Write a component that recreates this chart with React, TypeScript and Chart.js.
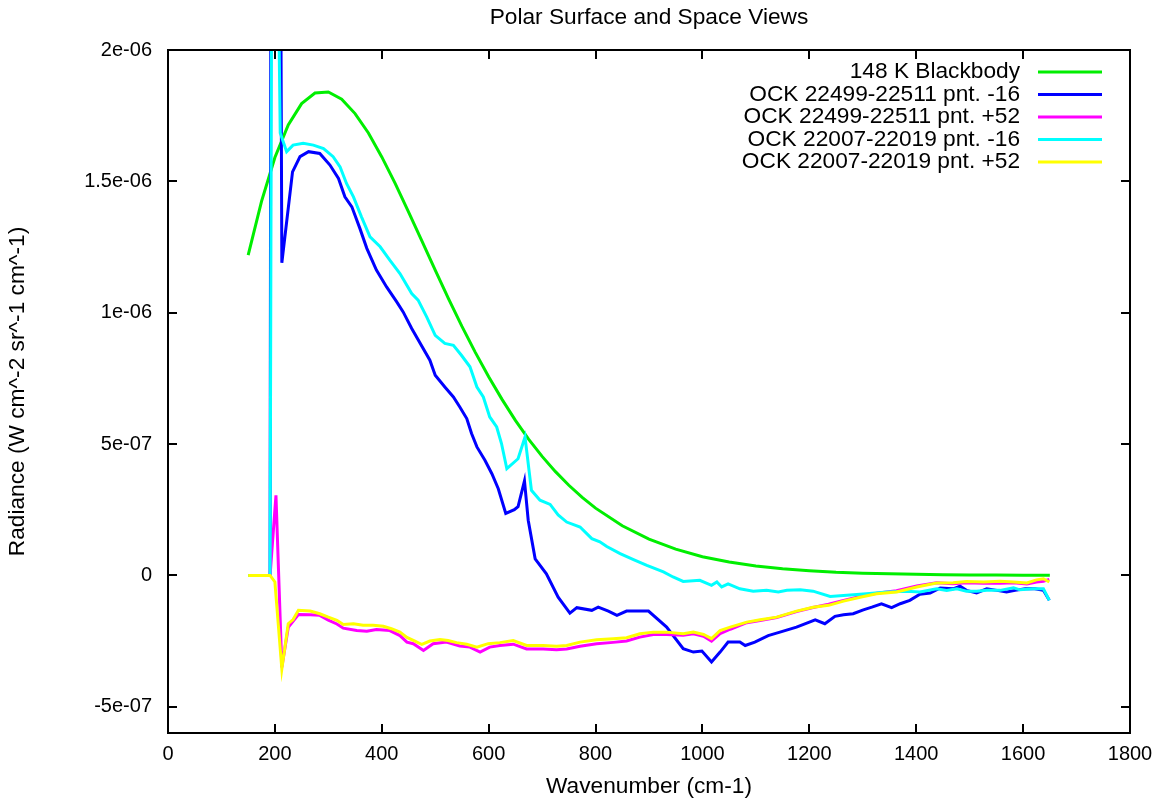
import React, { useEffect, useRef } from "react";
import { Chart, registerables } from "chart.js";

Chart.register(...registerables);

// y values are in units of 1e-6 W cm^-2 sr^-1 cm^-1
const TITLE = "Polar Surface and Space Views";
const X_TITLE = "Wavenumber (cm-1)";
const Y_TITLE = "Radiance (W cm^-2 sr^-1 cm^-1)";

const X_TICKS = [0, 200, 400, 600, 800, 1000, 1200, 1400, 1600, 1800];
const Y_TICKS = [-0.5, 0, 0.5, 1, 1.5, 2];
const Y_TICK_LABELS = ["-5e-07", "0", "5e-07", "1e-06", "1.5e-06", "2e-06"];

const SERIES_NAMES = [
  "148 K Blackbody",
  "OCK 22499-22511 pnt. -16",
  "OCK 22499-22511 pnt. +52",
  "OCK 22007-22019 pnt. -16",
  "OCK 22007-22019 pnt. +52",
];
const SERIES_COLORS = ["#00ee00", "#0000ff", "#ff00ff", "#00ffff", "#ffff00"];

const bbX = [150, 175, 200, 225, 250, 275, 300, 325, 350, 375, 400, 425, 450, 475, 500, 525, 550, 575, 600, 625, 650, 675, 700, 725, 750, 775, 800, 850, 900, 950, 1000, 1050, 1100, 1150, 1200, 1250, 1300, 1350, 1400, 1450, 1500, 1550, 1600, 1650];
const bbY = [1.219, 1.424, 1.591, 1.715, 1.796, 1.836, 1.840, 1.813, 1.758, 1.684, 1.593, 1.492, 1.384, 1.273, 1.162, 1.053, 0.948, 0.849, 0.756, 0.670, 0.590, 0.518, 0.453, 0.395, 0.343, 0.297, 0.256, 0.189, 0.138, 0.100, 0.071, 0.051, 0.036, 0.025, 0.018, 0.012, 0.0085, 0.0059, 0.0040, 0.0027, 0.0019, 0.0013, 0.0009, 0.0006];

const blueX = [150, 191, 197, 213, 233, 247, 263, 284, 303, 319, 331, 344, 359, 372, 390, 409, 428, 440, 456, 490, 500, 518, 534, 546, 559, 568, 578, 593, 606, 618, 632, 648, 655, 667, 674, 687, 708, 730, 752, 765, 793, 805, 824, 840, 858, 899, 933, 964, 983, 999, 1017, 1033, 1048, 1070, 1080, 1098, 1123, 1145, 1176, 1211, 1229, 1248, 1264, 1282, 1301, 1317, 1335, 1354, 1370, 1388, 1407, 1426, 1445, 1469, 1482, 1494, 1513, 1532, 1551, 1569, 1585, 1604, 1622, 1638, 1649];
const blueY = [0, 0, 10, 1.19, 1.536, 1.594, 1.613, 1.606, 1.562, 1.511, 1.441, 1.403, 1.321, 1.245, 1.162, 1.098, 1.041, 1.003, 0.940, 0.819, 0.762, 0.717, 0.679, 0.641, 0.597, 0.540, 0.489, 0.438, 0.387, 0.330, 0.236, 0.250, 0.262, 0.360, 0.210, 0.063, 0.006, -0.083, -0.144, -0.123, -0.133, -0.121, -0.136, -0.152, -0.136, -0.136, -0.197, -0.279, -0.292, -0.288, -0.330, -0.292, -0.254, -0.254, -0.267, -0.254, -0.229, -0.216, -0.197, -0.169, -0.184, -0.156, -0.150, -0.146, -0.131, -0.121, -0.108, -0.123, -0.108, -0.095, -0.072, -0.067, -0.048, -0.051, -0.041, -0.057, -0.067, -0.051, -0.057, -0.063, -0.057, -0.051, -0.051, -0.057, -0.095];

const magentaX = [150, 191, 202, 213, 225, 244, 266, 284, 300, 316, 328, 353, 372, 390, 415, 434, 447, 459, 478, 496, 521, 546, 565, 584, 602, 621, 646, 671, 702, 727, 746, 771, 802, 833, 858, 883, 908, 933, 964, 983, 1002, 1017, 1033, 1052, 1083, 1108, 1139, 1176, 1207, 1236, 1264, 1295, 1326, 1363, 1401, 1438, 1469, 1494, 1526, 1557, 1582, 1607, 1625, 1638, 1649];
const magentaY = [0, 0, 0.305, -0.35, -0.198, -0.149, -0.150, -0.152, -0.170, -0.185, -0.201, -0.210, -0.213, -0.206, -0.210, -0.229, -0.254, -0.260, -0.286, -0.260, -0.254, -0.269, -0.273, -0.292, -0.273, -0.267, -0.262, -0.280, -0.280, -0.283, -0.280, -0.270, -0.260, -0.255, -0.250, -0.235, -0.225, -0.225, -0.228, -0.222, -0.232, -0.250, -0.222, -0.205, -0.180, -0.172, -0.160, -0.138, -0.122, -0.110, -0.095, -0.080, -0.068, -0.058, -0.040, -0.028, -0.032, -0.028, -0.030, -0.030, -0.028, -0.033, -0.025, -0.022, -0.015];

const cyanX = [150, 191, 196, 210, 222, 234, 253, 272, 291, 309, 322, 334, 347, 362, 378, 397, 415, 434, 456, 468, 484, 500, 518, 534, 549, 565, 578, 590, 602, 615, 624, 634, 655, 668, 680, 696, 715, 730, 746, 771, 793, 808, 821, 846, 871, 896, 927, 945, 964, 995, 1017, 1027, 1036, 1048, 1070, 1095, 1120, 1142, 1158, 1183, 1207, 1239, 1270, 1307, 1345, 1382, 1407, 1438, 1457, 1476, 1494, 1513, 1532, 1557, 1582, 1594, 1619, 1638, 1649];
const cyanY = [0, 0, 4, 1.684, 1.613, 1.638, 1.645, 1.638, 1.625, 1.594, 1.555, 1.492, 1.441, 1.365, 1.289, 1.251, 1.200, 1.149, 1.073, 1.048, 0.984, 0.914, 0.883, 0.876, 0.838, 0.794, 0.717, 0.679, 0.603, 0.565, 0.502, 0.406, 0.444, 0.527, 0.324, 0.286, 0.270, 0.230, 0.203, 0.184, 0.140, 0.128, 0.110, 0.083, 0.060, 0.038, 0.013, -0.006, -0.023, -0.019, -0.038, -0.025, -0.044, -0.032, -0.051, -0.060, -0.057, -0.063, -0.057, -0.055, -0.060, -0.080, -0.076, -0.070, -0.063, -0.060, -0.063, -0.051, -0.057, -0.051, -0.060, -0.060, -0.057, -0.057, -0.047, -0.055, -0.051, -0.051, -0.095];

const yellowX = [150, 191, 200, 213, 225, 234, 244, 266, 284, 300, 316, 328, 347, 365, 384, 403, 418, 434, 447, 462, 475, 490, 509, 524, 540, 559, 578, 599, 621, 646, 671, 702, 727, 746, 771, 802, 833, 858, 883, 908, 933, 964, 983, 1002, 1017, 1033, 1052, 1083, 1108, 1139, 1176, 1207, 1236, 1264, 1295, 1326, 1363, 1401, 1438, 1469, 1494, 1526, 1557, 1582, 1607, 1625, 1638, 1649];
const yellowY = [0, 0, -0.025, -0.356, -0.184, -0.168, -0.133, -0.136, -0.146, -0.159, -0.171, -0.187, -0.184, -0.190, -0.190, -0.194, -0.203, -0.216, -0.236, -0.250, -0.263, -0.250, -0.244, -0.248, -0.256, -0.262, -0.273, -0.260, -0.256, -0.248, -0.267, -0.267, -0.270, -0.267, -0.254, -0.245, -0.241, -0.237, -0.222, -0.216, -0.216, -0.222, -0.216, -0.225, -0.241, -0.210, -0.197, -0.178, -0.169, -0.159, -0.136, -0.121, -0.114, -0.098, -0.083, -0.070, -0.063, -0.044, -0.029, -0.028, -0.023, -0.025, -0.022, -0.025, -0.029, -0.017, -0.013, -0.025];

const SERIES_X = [bbX, blueX, magentaX, cyanX, yellowX];
const SERIES_Y = [bbY, blueY, magentaY, cyanY, yellowY];

const FONT = "'Liberation Sans', Arial, sans-serif";
const FS = 20;
const FS_TEXT = 22.7;

const framePlugin = {
  id: "frame",
  afterDraw(chart: any) {
    const { ctx, chartArea: a, scales } = chart;
    const xs = scales.x;
    const ys = scales.y;
    ctx.save();
    ctx.strokeStyle = "#000";
    ctx.lineWidth = 2;
    ctx.strokeRect(a.left, a.top, a.right - a.left, a.bottom - a.top);
    const TL = 9;
    ctx.beginPath();
    for (const v of X_TICKS) {
      const px = Math.round(xs.getPixelForValue(v));
      ctx.moveTo(px, a.bottom);
      ctx.lineTo(px, a.bottom - TL);
      ctx.moveTo(px, a.top);
      ctx.lineTo(px, a.top + TL);
    }
    for (const v of Y_TICKS) {
      const py = Math.round(ys.getPixelForValue(v));
      ctx.moveTo(a.left, py);
      ctx.lineTo(a.left + TL, py);
      ctx.moveTo(a.right, py);
      ctx.lineTo(a.right - TL, py);
    }
    ctx.stroke();

    ctx.fillStyle = "#000";
    ctx.font = `${FS_TEXT}px ${FONT}`;
    ctx.textAlign = "center";
    ctx.textBaseline = "middle";
    const cx = (a.left + a.right) / 2;
    ctx.fillText(TITLE, cx, 18);
    ctx.fillText(X_TITLE, cx, 787);
    ctx.save();
    ctx.translate(18, (a.top + a.bottom) / 2);
    ctx.rotate(-Math.PI / 2);
    ctx.fillText(Y_TITLE, 0, 0);
    ctx.restore();

    // legend
    const rowsY = [72, 94.5, 117, 139.5, 162];
    ctx.textAlign = "right";
    for (let i = 0; i < SERIES_NAMES.length; i++) {
      ctx.fillStyle = "#000";
      ctx.fillText(SERIES_NAMES[i], 1020, rowsY[i]);
      ctx.strokeStyle = SERIES_COLORS[i];
      ctx.lineWidth = 3;
      ctx.beginPath();
      ctx.moveTo(1038, rowsY[i]);
      ctx.lineTo(1102, rowsY[i]);
      ctx.stroke();
    }
    ctx.restore();
  },
};

export default function App() {
  const ref = useRef<HTMLCanvasElement | null>(null);
  useEffect(() => {
    if (!ref.current) return;
    const datasets = SERIES_NAMES.map((name, i) => ({
      label: name,
      data: SERIES_X[i].map((x, j) => ({ x, y: SERIES_Y[i][j] })),
      borderColor: SERIES_COLORS[i],
      backgroundColor: SERIES_COLORS[i],
      borderWidth: 3,
      pointRadius: 0,
      tension: 0,
      fill: false,
      order: -i,
      clip: 0,
    }));
    const chart = new Chart(ref.current, {
      type: "line",
      data: { datasets },
      plugins: [framePlugin],
      options: {
        animation: false,
        responsive: false,
        maintainAspectRatio: false,
        layout: { padding: { left: 0, right: 35, top: 50, bottom: 0 } },
        plugins: {
          legend: { display: false },
          title: { display: false },
          tooltip: { enabled: false },
        },
        scales: {
          x: {
            type: "linear",
            min: 0,
            max: 1800,
            grid: { display: false, drawTicks: false },
            border: { display: false },
            afterBuildTicks: (s: any) => {
              s.ticks = X_TICKS.map((v) => ({ value: v }));
            },
            afterFit: (s: any) => {
              s.height = 72;
            },
            ticks: {
              color: "#000",
              padding: 9,
              maxRotation: 0,
              font: { family: FONT, size: FS },
              callback: (v: any) => String(v),
            },
          },
          y: {
            type: "linear",
            min: -0.6,
            max: 2,
            grid: { display: false, drawTicks: false },
            border: { display: false },
            afterBuildTicks: (s: any) => {
              s.ticks = Y_TICKS.map((v) => ({ value: v }));
            },
            afterFit: (s: any) => {
              s.width = 168;
            },
            ticks: {
              color: "#000",
              padding: 16,
              font: { family: FONT, size: FS },
              callback: (v: any) => {
                const k = Y_TICKS.indexOf(v);
                return k >= 0 ? Y_TICK_LABELS[k] : "";
              },
            },
          },
        },
      },
    });
    return () => chart.destroy();
  }, []);
  return (
    <div style={{ position: "absolute", left: 0, top: 0, width: 1165, height: 805, background: "#fff" }}>
      <canvas ref={ref} width={1165} height={805} style={{ display: "block" }} />
    </div>
  );
}
